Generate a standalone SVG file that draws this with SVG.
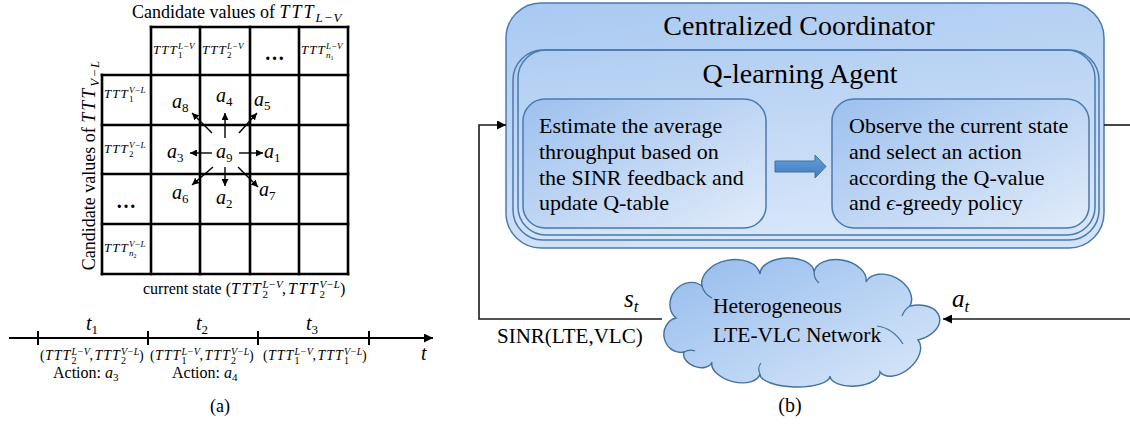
<svg xmlns="http://www.w3.org/2000/svg" width="1130" height="425" viewBox="0 0 1130 425">
  <defs>
    <style>
      .t{font-family:"Liberation Serif","Times New Roman",serif;fill:#000}
      .mi{font-family:"Liberation Serif","DejaVu Serif",serif;font-style:italic;fill:#000}
      .up{font-style:normal}
      .grid{stroke:#000;stroke-width:2.6;stroke-linecap:square}
      .act{stroke:#000;stroke-width:1.4;marker-end:url(#hs)}
      .wire{fill:none;stroke:#1a1a1a;stroke-width:1.6}
      .box{stroke:#4a7ab0;stroke-width:1.5}
      .detail{fill:none;stroke:#41719c;stroke-width:1.2}
    </style>
    <marker id="hs" viewBox="0 0 10 10" refX="10" refY="5" markerWidth="7" markerHeight="7" markerUnits="userSpaceOnUse" orient="auto">
      <path d="M0,0 L10,5 L0,10 z" fill="#000"/>
    </marker>
    <marker id="hl" viewBox="0 0 10 10" refX="10" refY="5" markerWidth="10" markerHeight="9" markerUnits="userSpaceOnUse" orient="auto">
      <path d="M0,0 L10,5 L0,10 z" fill="#000"/>
    </marker>
    <linearGradient id="gOuter" x1="0" y1="0" x2="0.3" y2="1">
      <stop offset="0" stop-color="#a9c9f1"/>
      <stop offset="1" stop-color="#d3e3f8"/>
    </linearGradient>
    <linearGradient id="gInner" x1="0" y1="0" x2="0.3" y2="1">
      <stop offset="0" stop-color="#afcdf2"/>
      <stop offset="1" stop-color="#d6e5f9"/>
    </linearGradient>
    <linearGradient id="gStep" x1="0" y1="0" x2="1" y2="1">
      <stop offset="0" stop-color="#9dc0ee"/>
      <stop offset="1" stop-color="#e1ecfa"/>
    </linearGradient>
    <linearGradient id="gCloud" x1="0" y1="0" x2="1" y2="1">
      <stop offset="0" stop-color="#94bbed"/>
      <stop offset="1" stop-color="#dae8f9"/>
    </linearGradient>
    <linearGradient id="gFlow" x1="0" y1="0" x2="0" y2="1">
      <stop offset="0" stop-color="#6a9fd8"/>
      <stop offset="1" stop-color="#3f7cc4"/>
    </linearGradient>
  </defs>

  <!-- ===== (a) state grid ===== -->
  <g id="grid-title">
    <text class="t" x="132" y="18" font-size="18">Candidate values of <tspan class="mi" letter-spacing="2">TTT</tspan><tspan class="mi" font-size="13" dy="4" letter-spacing="1">L−V</tspan></text>
  </g>
  <g id="grid-side-title">
    <text class="t" font-size="18" text-anchor="middle" transform="translate(95,165) rotate(-90)">Candidate values of <tspan class="mi" letter-spacing="2">TTT</tspan><tspan class="mi" font-size="13" dy="4" letter-spacing="1">V−L</tspan></text>
  </g>

  <g id="grid-lines">
    <line class="grid" x1="151" y1="27" x2="348" y2="27"/>
    <line class="grid" x1="102" y1="75" x2="348" y2="75"/>
    <line class="grid" x1="102" y1="125" x2="348" y2="125"/>
    <line class="grid" x1="102" y1="174" x2="348" y2="174"/>
    <line class="grid" x1="102" y1="224" x2="348" y2="224"/>
    <line class="grid" x1="102" y1="274" x2="348" y2="274"/>
    <line class="grid" x1="102" y1="75" x2="102" y2="274"/>
    <line class="grid" x1="151" y1="27" x2="151" y2="274"/>
    <line class="grid" x1="200" y1="27" x2="200" y2="274"/>
    <line class="grid" x1="250" y1="27" x2="250" y2="274"/>
    <line class="grid" x1="299" y1="27" x2="299" y2="274"/>
    <line class="grid" x1="348" y1="27" x2="348" y2="274"/>
  </g>

  <g id="col-headers">
    <text class="mi" x="153" y="54" font-size="13" letter-spacing="1">TTT</text>
    <text class="mi" x="178" y="49" font-size="9">L−V</text>
    <text class="t" x="178" y="58" font-size="9">1</text>
    <text class="mi" x="202" y="54" font-size="13" letter-spacing="1">TTT</text>
    <text class="mi" x="227" y="49" font-size="9">L−V</text>
    <text class="t" x="227" y="58" font-size="9">2</text>
    <text class="t" x="274.5" y="60" font-size="20" font-weight="bold" text-anchor="middle">…</text>
    <text class="mi" x="301" y="54" font-size="13" letter-spacing="1">TTT</text>
    <text class="mi" x="326" y="49" font-size="9">L−V</text>
    <text class="mi" x="326" y="58" font-size="9">n<tspan class="up" font-size="6" dy="2">1</tspan></text>
  </g>

  <g id="row-headers">
    <text class="mi" x="104" y="98" font-size="13" letter-spacing="1">TTT</text>
    <text class="mi" x="129" y="93" font-size="9">V−L</text>
    <text class="t" x="129" y="102" font-size="9">1</text>
    <text class="mi" x="104" y="153" font-size="13" letter-spacing="1">TTT</text>
    <text class="mi" x="129" y="148" font-size="9">V−L</text>
    <text class="t" x="129" y="157" font-size="9">2</text>
    <text class="t" x="126" y="208" font-size="20" font-weight="bold" text-anchor="middle">…</text>
    <text class="mi" x="104" y="252" font-size="13" letter-spacing="1">TTT</text>
    <text class="mi" x="129" y="247" font-size="9">V−L</text>
    <text class="mi" x="129" y="256" font-size="9">n<tspan class="up" font-size="6" dy="2">2</tspan></text>
  </g>

  <g id="action-labels">
    <text class="mi" x="172" y="108" font-size="20">a<tspan class="up" font-size="13" dy="4">8</tspan></text>
    <text class="mi" x="216" y="102" font-size="20">a<tspan class="up" font-size="13" dy="4">4</tspan></text>
    <text class="mi" x="254" y="106" font-size="20">a<tspan class="up" font-size="13" dy="4">5</tspan></text>
    <text class="mi" x="167" y="158" font-size="20">a<tspan class="up" font-size="13" dy="4">3</tspan></text>
    <text class="mi" x="216" y="158" font-size="20">a<tspan class="up" font-size="13" dy="4">9</tspan></text>
    <text class="mi" x="264" y="158" font-size="20">a<tspan class="up" font-size="13" dy="4">1</tspan></text>
    <text class="mi" x="172" y="199" font-size="20">a<tspan class="up" font-size="13" dy="4">6</tspan></text>
    <text class="mi" x="216" y="204" font-size="20">a<tspan class="up" font-size="13" dy="4">2</tspan></text>
    <text class="mi" x="259" y="196" font-size="20">a<tspan class="up" font-size="13" dy="4">7</tspan></text>
  </g>

  <g id="current-state">
    <text class="t" y="294" font-size="16"><tspan x="143">current state (</tspan><tspan class="mi" x="231" letter-spacing="1.5">TTT</tspan><tspan class="mi" x="262.5" y="288" font-size="11">L−V</tspan><tspan x="262.5" y="298" font-size="11">2</tspan><tspan x="282" y="294">,</tspan><tspan class="mi" x="288" letter-spacing="1.5">TTT</tspan><tspan class="mi" x="319.5" y="288" font-size="11">V−L</tspan><tspan x="319.5" y="298" font-size="11">2</tspan><tspan x="340" y="294">)</tspan></text>
  </g>

  <!-- ===== (a) timeline ===== -->
  <g id="timeline">
    <line x1="9" y1="338" x2="433" y2="338" stroke="#000" stroke-width="2" marker-end="url(#hl)"/>
    <line x1="38" y1="331" x2="38" y2="345" stroke="#000" stroke-width="2"/>
    <line x1="148" y1="331" x2="148" y2="345" stroke="#000" stroke-width="2"/>
    <line x1="258" y1="331" x2="258" y2="345" stroke="#000" stroke-width="2"/>
    <line x1="369" y1="331" x2="369" y2="345" stroke="#000" stroke-width="2"/>
    <text class="mi" x="86" y="330" font-size="20">t<tspan class="up" font-size="13" dy="4">1</tspan></text>
    <text class="mi" x="196" y="330" font-size="20">t<tspan class="up" font-size="13" dy="4">2</tspan></text>
    <text class="mi" x="306" y="330" font-size="20">t<tspan class="up" font-size="13" dy="4">3</tspan></text>
    <text class="mi" x="421" y="360" font-size="20">t</text>
  </g>

  <g id="slot-1">
    <text class="t" y="360" font-size="14"><tspan x="40">(</tspan><tspan class="mi" x="45" letter-spacing="1">TTT</tspan><tspan class="mi" x="71.5" y="355" font-size="10">L−V</tspan><tspan x="71.5" y="364" font-size="10">2</tspan><tspan x="89.5" y="360">,</tspan><tspan class="mi" x="94.5" letter-spacing="1">TTT</tspan><tspan class="mi" x="121" y="355" font-size="10">V−L</tspan><tspan x="121" y="364" font-size="10">2</tspan><tspan x="139" y="360">)</tspan></text>
    <text class="t" x="53" y="378" font-size="16">Action: <tspan class="mi">a</tspan><tspan font-size="11" dy="3">3</tspan></text>
  </g>
  <g id="slot-2">
    <text class="t" y="360" font-size="14"><tspan x="150">(</tspan><tspan class="mi" x="155" letter-spacing="1">TTT</tspan><tspan class="mi" x="181.5" y="355" font-size="10">L−V</tspan><tspan x="181.5" y="364" font-size="10">1</tspan><tspan x="199.5" y="360">,</tspan><tspan class="mi" x="204.5" letter-spacing="1">TTT</tspan><tspan class="mi" x="231" y="355" font-size="10">V−L</tspan><tspan x="231" y="364" font-size="10">2</tspan><tspan x="249" y="360">)</tspan></text>
    <text class="t" x="172" y="378" font-size="16">Action: <tspan class="mi">a</tspan><tspan font-size="11" dy="3">4</tspan></text>
  </g>
  <g id="slot-3">
    <text class="t" y="360" font-size="14"><tspan x="263">(</tspan><tspan class="mi" x="268" letter-spacing="1">TTT</tspan><tspan class="mi" x="294.5" y="355" font-size="10">L−V</tspan><tspan x="294.5" y="364" font-size="10">1</tspan><tspan x="312.5" y="360">,</tspan><tspan class="mi" x="317.5" letter-spacing="1">TTT</tspan><tspan class="mi" x="344" y="355" font-size="10">V−L</tspan><tspan x="344" y="364" font-size="10">1</tspan><tspan x="362" y="360">)</tspan></text>
  </g>
  <text class="t" x="220" y="412" font-size="18" text-anchor="middle">(a)</text>

  <!-- ===== (b) control loop ===== -->
  <g id="coordinator">
    <rect class="box" x="506" y="3" width="598" height="245" rx="35" fill="url(#gOuter)"/>
    <text class="t" x="799" y="35" font-size="28" text-anchor="middle">Centralized Coordinator</text>
  </g>
  <g id="agent">
    <rect class="box" x="513" y="50" width="586" height="190" rx="30" fill="url(#gInner)"/>
    <rect class="box" x="518" y="50" width="577" height="185" rx="28" fill="none"/>
    <text class="t" x="800" y="83" font-size="28" text-anchor="middle">Q-learning Agent</text>
  </g>
  <g id="estimate">
    <rect class="box" x="523" y="99" width="243" height="129" rx="22" fill="url(#gStep)"/>
    <text class="t" font-size="22"><tspan x="539" y="133">Estimate the average</tspan><tspan x="539" y="159">throughput based on</tspan><tspan x="539" y="185">the SINR feedback and</tspan><tspan x="539" y="210">update Q-table</tspan></text>
  </g>
  <g id="select">
    <rect class="box" x="832" y="99" width="257" height="129" rx="22" fill="url(#gStep)"/>
    <text class="t" font-size="22"><tspan x="849" y="133">Observe the current state</tspan><tspan x="849" y="159">and select an action</tspan><tspan x="849" y="185">according the Q-value</tspan><tspan x="849" y="210">and <tspan class="mi">ϵ</tspan>-greedy policy</tspan></text>
  </g>
  <g id="step-flow">
    <polygon points="775,161 815,161 815,155 826,166.5 815,178 815,172 775,172" fill="url(#gFlow)" stroke="#41719c" stroke-width="1"/>
  </g>

  <g id="network">
    <path d="M684,352 A17.4,16 -103.2 0 1 676,318 A20.6,18 -50.9 0 1 702,286 A29.6,20 -11.7 0 1 760,274 A27,15 -2.1 0 1 814,272 A26.4,17 10.9 0 1 866,282 A25,18 28.6 0 1 910,306 A17.4,26 76.8 0 1 918,340 A24.8,16 139.9 0 1 880,372 A25,12 175.4 0 1 830,376 A35,12 -178.4 0 1 760,374 A24.7,14 -166 0 1 712,362 A14.8,10 -160.3 0 1 684,352 Z" fill="url(#gCloud)" stroke="#41719c" stroke-width="1.4"/>
    <path class="detail" d="M702,286 q2,8 10,12"/>
    <path class="detail" d="M814,272 q0,7 5,11"/>
    <path class="detail" d="M910,306 q-6,4 -8,10"/>
    <path class="detail" d="M903,344 q-10,-16 -26,-18"/>
    <path class="detail" d="M760,374 q-3,-6 1,-11"/>
    <path class="detail" d="M684,352 q6,-3 11,-1"/>
    <text class="t" font-size="21.5"><tspan x="713" y="313">Heterogeneous</tspan><tspan x="713" y="342">LTE-VLC Network</tspan></text>
  </g>

  <g id="connectors">
    <line class="act" x1="225" y1="138" x2="225" y2="113"/>
    <line class="act" x1="212" y1="133" x2="192" y2="113"/>
    <line class="act" x1="239" y1="133" x2="257" y2="113"/>
    <line class="act" x1="212" y1="153" x2="190" y2="153"/>
    <line class="act" x1="239" y1="153" x2="263" y2="153"/>
    <line class="act" x1="225" y1="167" x2="225" y2="186"/>
    <line class="act" x1="213" y1="167" x2="192" y2="185"/>
    <line class="act" x1="238" y1="167" x2="258" y2="187"/>

    <polyline class="wire" points="662,319 479,319 479,125 506,125" marker-end="url(#hl)"/>
    <line class="wire" x1="1104" y1="125" x2="1130" y2="125"/>
    <line class="wire" x1="1130" y1="319" x2="943" y2="319" marker-end="url(#hl)"/>
  </g>

  <g id="loop-labels">
    <text class="mi" x="624" y="307" font-size="25">s<tspan font-size="17" dy="5">t</tspan></text>
    <text class="mi" x="952" y="307" font-size="25">a<tspan font-size="17" dy="5">t</tspan></text>
    <text class="t" x="497" y="343" font-size="21">SINR(LTE,VLC)</text>
  </g>
  <text class="t" x="790" y="412" font-size="20" text-anchor="middle">(b)</text>
</svg>
